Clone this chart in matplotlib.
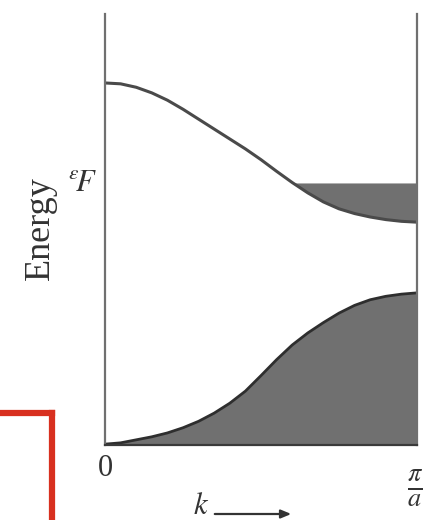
import numpy as np
import matplotlib
matplotlib.use("Agg")
import matplotlib.pyplot as plt
from matplotlib.lines import Line2D
from matplotlib.patches import FancyArrowPatch

plt.rcParams['font.family'] = ['Liberation Serif', 'DejaVu Serif']
plt.rcParams['mathtext.fontset'] = 'stix'

# k in units of pi/a, energy in arbitrary units (axis runs 0..10)
k_upper = np.array([0.00, 0.05, 0.10, 0.15, 0.20, 0.25, 0.30, 0.35, 0.40, 0.45, 0.50,
                    0.55, 0.60, 0.65, 0.70, 0.75, 0.80, 0.85, 0.90, 0.95, 1.00])
E_upper = np.array([8.40, 8.38, 8.30, 8.17, 8.00, 7.79, 7.56, 7.33, 7.10, 6.87, 6.62,
                    6.35, 6.09, 5.85, 5.64, 5.48, 5.37, 5.29, 5.23, 5.19, 5.17])

k_lower = np.array([0.00, 0.05, 0.10, 0.15, 0.20, 0.25, 0.30, 0.35, 0.40, 0.45, 0.50,
                    0.55, 0.60, 0.65, 0.70, 0.75, 0.80, 0.85, 0.90, 0.95, 1.00])
E_lower = np.array([0.02, 0.05, 0.12, 0.19, 0.28, 0.40, 0.55, 0.74, 0.97, 1.25, 1.61,
                    1.98, 2.32, 2.60, 2.84, 3.06, 3.24, 3.37, 3.45, 3.50, 3.53])

E_fermi = 6.08

W, H = 427, 520
fig = plt.figure(figsize=(W / 100, H / 100), dpi=100)
ax = fig.add_axes([105 / W, (H - 445) / H, (417 - 105) / W, (445 - 14) / H])

fill_col = '#707070'
ax.fill_between(k_lower, 0, E_lower, color=fill_col, lw=0)
ax.plot(k_lower, E_lower, color='#2e2e2e', lw=2.0, solid_joinstyle='round')

ax.fill_between(k_upper, E_upper, E_fermi, where=E_upper <= E_fermi,
                interpolate=True, color=fill_col, lw=0)
ax.plot(k_upper, E_upper, color='#4a4a4a', lw=2.2, solid_joinstyle='round')

ax.set_xlim(0, 1)
ax.set_ylim(0, 10)
ax.set_xticks([])
ax.set_yticks([])
ax.spines['top'].set_visible(False)
for s in ['left', 'right', 'bottom']:
    ax.spines[s].set_color('#707070')
    ax.spines[s].set_linewidth(1.6)
ax.spines['bottom'].set_color('#3a3a3a')

# labels
fig.text(40 / W, 1 - 228 / H, 'Energy', rotation=90, fontsize=26,
         ha='center', va='center', color='#333333')
fig.text(83 / W, 1 - 183 / H, r'${}^{\epsilon}\!F$', fontsize=22,
         ha='center', va='center', color='#333333')
fig.text(105 / W, 1 - 468 / H, '0', fontsize=22,
         ha='center', va='center', color='#333333')
fig.text(415 / W, 1 - 488 / H, r'$\frac{\pi}{a}$', fontsize=27,
         ha='center', va='center', color='#333333')
fig.text(201 / W, 1 - 506 / H, r'$k$', fontsize=22,
         ha='center', va='center', color='#333333')
fig.patches.append(FancyArrowPatch(
    (212 / W, 1 - 514 / H), (294 / W, 1 - 514 / H), transform=fig.transFigure,
    arrowstyle='-|>,head_length=6,head_width=2.5', color='#333333', lw=1.6))

# red frame fragment in the lower left
red = '#d8301f'
fig.add_artist(Line2D([0, 52 / W], [1 - 413 / H, 1 - 413 / H], color=red, lw=4.5,
                      transform=fig.transFigure, solid_capstyle='projecting'))
fig.add_artist(Line2D([52 / W, 52 / W], [1 - 413 / H, 0], color=red, lw=4.5,
                      transform=fig.transFigure, solid_capstyle='projecting'))

fig.savefig('out.png', dpi=100)
